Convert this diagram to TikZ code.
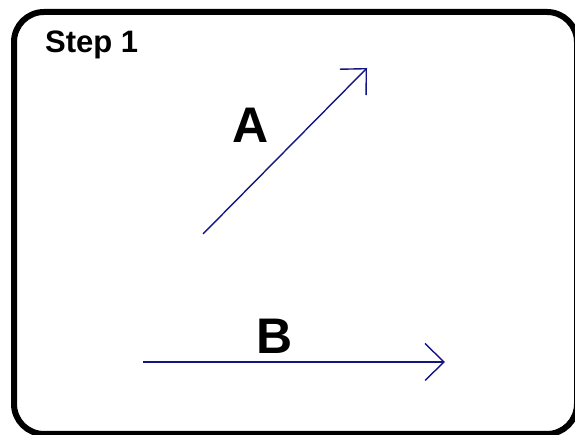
\documentclass[tikz,border=0pt]{standalone}
\usepackage{fontspec}
\setmainfont{Liberation Sans}
\usetikzlibrary{arrows.meta}
\definecolor{navyline}{RGB}{20,20,130}
\begin{document}
\begin{tikzpicture}[x=1pt,y=1pt,
  frame/.style={line width=6pt,rounded corners=30pt,draw=black},
  vec/.style={draw=navyline,line width=1.4pt,-{Straight Barb[length=19pt,width=37pt,line width=1.4pt]}},
  lbl/.style={font=\bfseries\fontsize{50}{50}\selectfont,inner sep=0pt},
  steplbl/.style={font=\bfseries\fontsize{31}{31}\selectfont,inner sep=0pt}]
\useasboundingbox (0,0) rectangle (575,435);
\begin{scope}
\clip (0,0) rectangle (575,435);
\draw[frame] (14,423) rectangle (577,1);
\end{scope}
\node[steplbl,anchor=base west] (step) at (45,382) {Step 1};
\coordinate (a0) at (203,201);
\coordinate (a1) at (367,367);
\coordinate (b0) at (143,73);
\coordinate (b1) at (445,73);
\draw[vec] (a0) -- (a1);
\draw[vec] (b0) -- (b1);
\node[lbl,anchor=base] (la) at (251,292) {A};
\node[lbl,anchor=base] (lb) at (275,81) {B};
\end{tikzpicture}
\end{document}
